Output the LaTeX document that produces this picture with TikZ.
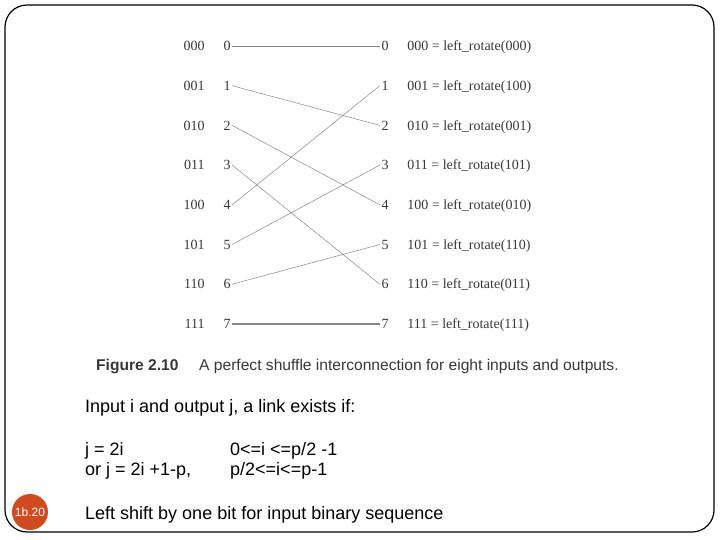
\documentclass[tikz,border=0pt]{standalone}
\usepackage{fontspec}
\setmainfont{Liberation Serif}
\newfontfamily\arialfont{Liberation Sans}
\usetikzlibrary{positioning}
\definecolor{figgray}{RGB}{55,55,55}
\definecolor{wiregray}{RGB}{135,135,135}
\definecolor{badgered}{RGB}{208,74,31}
\tikzset{
  port/.style={inner sep=1.5pt, text=figgray, font=\fontsize{14}{16}\selectfont},
  bit/.style={inner sep=0pt, text=figgray, font=\fontsize{14}{16}\selectfont},
  wire/.style={draw=wiregray, line width=0.5pt},
  txt/.style={anchor=base west, inner sep=0pt, font=\arialfont\fontsize{18}{20}\selectfont},
  captxt/.style={anchor=base west, inner sep=0pt, text=figgray, font=\arialfont\fontsize{15.6}{18}\selectfont}
}

\begin{document}
\begin{tikzpicture}[x=1pt, y=-1pt, node distance=17pt]
  \useasboundingbox (0,0) rectangle (720,540);
  \draw[line width=1.2pt, rounded corners=22pt] (5,5) rectangle (714,532);

  % inputs, outputs and their binary names
  \foreach \i/\b/\r in {0/000/000, 1/001/100, 2/010/001, 3/011/101,
                        4/100/010, 5/101/110, 6/110/011, 7/111/111}{
    \node[port] (in\i)  at (227,{46+39.7*\i}) {\i};
    \node[port] (out\i) at (385,{46+39.7*\i}) {\i};
    \node[bit, base left=of in\i]   (inb\i) {\b};
    \node[bit, base right=of out\i] (rot\i) {\b{} = left\_rotate(\r)};
  }

  \draw[wire] (in0.east) -- (out0.west);
  \draw[wire] (in1.east) -- (out2.west);
  \draw[wire] (in2.east) -- (out4.west);
  \draw[wire] (in3.east) -- (out6.west);
  \draw[wire] (in4.east) -- (out1.west);
  \draw[wire] (in5.east) -- (out3.west);
  \draw[wire] (in6.east) -- (out5.west);
  \draw[wire, line width=1.6pt] (in7.east) -- (out7.west);

  % caption
  \node[captxt, font=\arialfont\bfseries\fontsize{15.6}{18}\selectfont] (figno) at (96,370.5) {Figure 2.10};
  \node[captxt] (figtext) at (199,370.5) {A perfect shuffle interconnection for eight inputs and outputs.};

  % slide text
  \node[txt] (intro) at (85,412) {Input i and output j, a link exists if:};
  \node[txt] (ruleA) at (85,455) {j = 2i};
  \node[txt] (ruleB) at (85,475) {or j = 2i +1-p,};
  \node[txt] (condA) at (230,455) {0<=i <=p/2 -1};
  \node[txt] (condB) at (230,475) {p/2<=i<=p-1};
  \node[txt] (shift) at (85,519) {Left shift by one bit for input binary sequence};

  \node[circle, fill=badgered, minimum size=36pt, inner sep=0pt, text=white,
        font=\arialfont\fontsize{12}{14}\selectfont] (badge) at (30,512) {1b.20};
\end{tikzpicture}
\end{document}
